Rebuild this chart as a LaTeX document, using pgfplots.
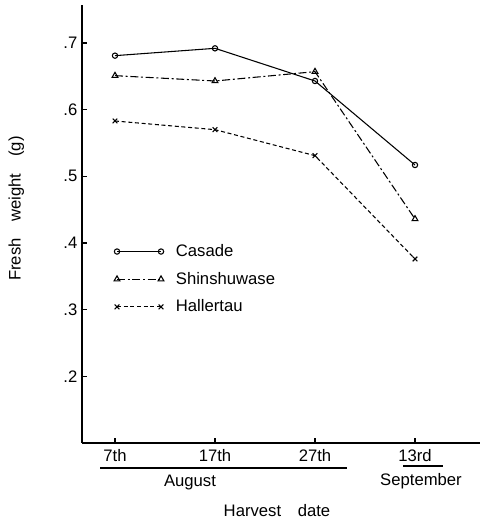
\documentclass[border=0pt]{standalone}
\usepackage{fontspec}
\setmainfont{Liberation Sans}
\usepackage{pgfplots}
\pgfplotsset{compat=1.18}
\begin{document}
\begin{tikzpicture}
\path[use as bounding box] (0,0) rectangle (360pt,395.25pt);
\begin{axis}[
    at={(61.5pt,63pt)}, anchor=south west,
    scale only axis, width=298.5pt, height=328.5pt,
    xmin=-0.33, xmax=3.65, ymin=0.1, ymax=0.757,
    axis lines=left, axis line style={-, line width=1.1pt},
    xtick={0,1,2,3}, xticklabels={7th,17th,27th,13rd},
    ytick={0.2,0.3,0.4,0.5,0.6,0.7}, yticklabels={.2,.3,.4,.5,.6,.7},
    xticklabel style={yshift=-1.5pt},
    tick align=inside, major tick length=4pt,
    tick style={line width=0.8pt, black},
    font=\fontsize{12.5}{14}\selectfont,
    ylabel={Fresh\quad weight\quad (g)},
    ylabel style={at={(axis description cs:-0.165,0.535)}, anchor=center},
    clip=false,
    legend style={at={(axis description cs:0.07,0.466)}, anchor=north west,
        draw=none, fill=none, row sep=6.2pt, font=\fontsize{12.5}{14}\selectfont,
        nodes={inner xsep=9pt}},
    legend cell align=left,
    legend image code/.code={\draw[#1] plot coordinates {(0pt,0pt) (33pt,0pt)};},
]
    % Casade
    \addplot[black, line width=0.8pt, mark=o, mark size=2pt, mark options={solid}] coordinates {
        (0,0.681) (1,0.692) (2,0.643) (3,0.517)
    };
    % Shinshuwase
    \addplot[black, line width=0.8pt, dash pattern=on 6pt off 2pt on 1.5pt off 2pt,
        mark=triangle, mark size=2.5pt, mark options={solid}] coordinates {
        (0,0.651) (1,0.643) (2,0.657) (3,0.436)
    };
    % Hallertau
    \addplot[black, line width=0.8pt, dash pattern=on 3pt off 2pt,
        mark=x, mark size=2.5pt, mark options={solid}] coordinates {
        (0,0.583) (1,0.570) (2,0.531) (3,0.376)
    };
    \legend{Casade, Shinshuwase, Hallertau}
\end{axis}
\begin{scope}[x=0.75pt, y=-0.75pt, yshift=395.25pt, font=\fontsize{12.5}{14}\selectfont]
    \draw[line width=0.9pt] (100,468) -- (347,468);
    \draw[line width=0.9pt] (403,466) -- (443,466);
    \node at (190,482) {August};
    \node at (421,481) {September};
    \node at (277,511) {Harvest\quad date};
\end{scope}
\end{tikzpicture}
\end{document}
